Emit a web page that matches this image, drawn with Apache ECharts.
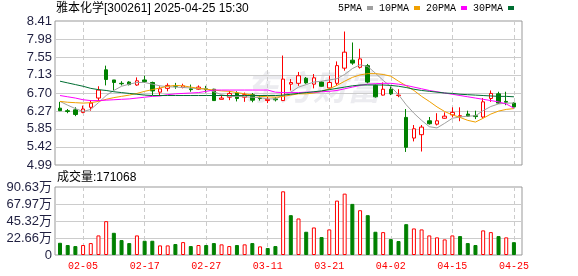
<!DOCTYPE html>
<html><head><meta charset="utf-8">
<script src="https://cdn.jsdelivr.net/npm/echarts@6/dist/echarts.min.js"></script>
<style>html,body{margin:0;padding:0;background:#fff}#c{width:578px;height:276px}</style>
</head><body><div id="c"></div>
<script>
const stockName = '雅本化学';
const stockCode = '300261';
const stamp = '2025-04-25 15:30';
const dates = ['01-23','01-24','01-27','02-05','02-06','02-07','02-10','02-11','02-12','02-13','02-14','02-17','02-18','02-19','02-20','02-21','02-24','02-25','02-26','02-27','02-28','03-03','03-04','03-05','03-06','03-07','03-10','03-11','03-12','03-13','03-14','03-17','03-18','03-19','03-20','03-21','03-24','03-25','03-26','03-27','03-28','03-31','04-01','04-02','04-03','04-07','04-08','04-09','04-10','04-11','04-14','04-15','04-16','04-17','04-18','04-21','04-22','04-23','04-24','04-25'];
const openP  = [6.34,6.28,6.30,6.24,6.36,6.58,7.25,7.01,6.93,6.96, 6.89,7.01,6.95,6.72,6.81,6.87,6.83,6.80,6.79,6.80, 6.79,6.55,6.60,6.70,6.60,6.66,6.58,6.52,6.56,6.52, 6.91,6.93,7.05,6.91,6.96,6.82,6.93,7.29,7.48,7.31, 7.35,6.88,6.65,6.79,6.64,6.12,5.63,5.71,6.04,5.96, 6.10,6.18,6.15,6.20,6.16,6.13,6.57,6.68,6.50,6.46];
const closeP = [6.28,6.26,6.19,6.32,6.46,6.77,7.02,6.95,6.92,6.90, 6.99,6.97,6.75,6.80,6.88,6.86,6.87,6.78,6.84,6.78, 6.52,6.58,6.69,6.57,6.66,6.53,6.57,6.55,6.54,7.03, 6.95,7.11,6.94,7.06,6.86,6.95,7.35,7.67,7.41,7.51, 6.96,6.61,6.79,6.68,6.65,5.41,5.85,5.89,5.97,6.04, 6.15,6.24,6.16,6.15,6.14,6.49,6.69,6.46,6.48,6.37];
const lowP   = [6.27,6.22,6.15,6.22,6.28,6.51,6.88,6.76,6.88,6.88, 6.87,6.94,6.65,6.64,6.74,6.80,6.81,6.73,6.77,6.71, 6.51,6.55,6.53,6.50,6.49,6.48,6.52,6.46,6.50,6.51, 6.76,6.87,6.92,6.81,6.85,6.79,6.87,7.23,7.37,7.28, 6.93,6.59,6.64,6.65,6.60,5.30,5.55,5.31,5.95,5.93, 6.09,6.12,6.03,6.14,6.08,6.11,6.49,6.44,6.41,6.36];
const highP  = [6.49,6.32,6.36,6.40,6.53,6.86,7.35,7.01,6.98,6.98, 7.07,7.11,6.97,6.86,6.93,6.94,6.92,6.90,6.88,6.87, 6.80,6.66,6.75,6.74,6.71,6.70,6.63,6.61,6.60,7.59, 7.03,7.20,7.08,7.15,6.98,7.11,7.45,8.16,7.90,7.75, 7.39,6.90,6.95,6.87,6.79,6.32,5.94,5.94,6.13,6.22, 6.24,6.36,6.36,6.28,6.28,6.58,6.76,6.73,6.73,6.48];
const volume = [163000,133000,119000,133000,159000,261000,451000,296000,199000,159000, 261000,190000,190000,128000,128000,146000,172000,119000,133000,133000, 159000,142000,119000,133000,142000,159000,115000,93000,119000,849000, 531000,487000,310000,367000,239000,341000,725000,818000,681000,597000, 531000,310000,305000,212000,186000,411000,354000,341000,261000,235000, 208000,261000,252000,159000,133000,328000,305000,252000,235000,171068];
const ma5  = [6.50,6.41,6.33,6.26,6.31,6.47,6.64,6.76,6.86,6.91, 6.95,6.95,6.91,6.87,6.85,6.84,6.83,6.82,6.80,6.80, 6.73,6.66,6.62,6.62,6.61,6.60,6.59,6.56,6.56,6.64, 6.72,6.84,6.90,6.96,6.98,7.01,7.04,7.14,7.28,7.37, 7.33,7.17,7.00,6.85,6.66,6.42,6.22,6.05,5.90,5.87, 5.98,6.10,6.13,6.15,6.16,6.28,6.38,6.44,6.46,6.46];
const ma10 = [6.50,6.48,6.47,6.46,6.47,6.50,6.55,6.59,6.62,6.65, 6.69,6.74,6.78,6.82,6.86,6.88,6.87,6.84,6.81,6.79, 6.77,6.75,6.74,6.71,6.68,6.65,6.62,6.61,6.60,6.62, 6.65,6.68,6.68,6.70,6.74,6.80,6.88,6.98,7.07,7.13, 7.16,7.16,7.14,7.10,6.98,6.87,6.76,6.62,6.50,6.37, 6.26,6.18,6.12,6.05,6.01,6.10,6.20,6.27,6.31,6.33];
const ma20 = [6.64,6.61,6.58,6.54,6.52,6.52,6.53,6.54,6.55,6.56, 6.58,6.60,6.62,6.63,6.66,6.68,6.69,6.70,6.71,6.74, 6.77,6.77,6.77,6.77,6.77,6.77,6.77,6.77,6.72,6.71, 6.71,6.71,6.72,6.72,6.73,6.74,6.76,6.80,6.84,6.88, 6.91,6.92,6.93,6.93,6.91,6.88,6.84,6.80,6.76,6.73, 6.70,6.67,6.64,6.61,6.58,6.55,6.52,6.49,6.44,6.34];
const ma30 = [6.98,6.94,6.90,6.86,6.81,6.78,6.76,6.73,6.71,6.69, 6.67,6.65,6.64,6.64,6.64,6.64,6.64,6.64,6.64,6.64, 6.64,6.64,6.64,6.64,6.64,6.64,6.64,6.64,6.64,6.65, 6.67,6.69,6.71,6.73,6.75,6.78,6.81,6.84,6.87,6.89, 6.89,6.89,6.89,6.88,6.86,6.83,6.79,6.76,6.74,6.72, 6.70,6.69,6.67,6.66,6.65,6.64,6.63,6.62,6.62,6.61];
const maNames = ['5PMA','10PMA','20PMA','30PMA'];
const priceTicks = ['4.99','5.42','5.85','6.27','6.70','7.13','7.55','7.98','8.41'];
const volTicks = ['0','22.66万','45.32万','67.97万','90.63万'];
const volTickValues = [0,226600,453200,679700,906300];
const labelIdx = [3,11,19,27,35,43,51,59];

const FONT = '"Liberation Sans","Noto Sans CJK SC",sans-serif';
const MONO = '"Liberation Mono",monospace';
const RED = '#ff0000', GREEN = '#008000';
const maColors = ['#a0a0a0','#f0a000','#ff00ff','#006e32'];
const XMIN = -0.65, XMAX = 60.05;
const priceVals = priceTicks.map(Number);

function nearestLabel(v, vals, labels){
  let bi = 0, bd = Infinity;
  vals.forEach((x,i)=>{ const d = Math.abs(x-v); if (d < bd){ bd = d; bi = i; } });
  return labels[bi];
}

const candleData = dates.map((d,i)=>[i, openP[i], closeP[i], lowP[i], highP[i]]);
const volData = volume.map((v,i)=>{
  const prev = i === 0 ? openP[0] : closeP[i-1];
  const up = closeP[i] >= prev;
  return { value: [i, v], itemStyle: up
    ? { color: '#ffffff', borderColor: RED, borderWidth: 1 }
    : { color: GREEN, borderColor: GREEN, borderWidth: 1 } };
});
const maArrays = [ma5, ma10, ma20, ma30];

const xBase = (gi, showLabel) => ({
  type: 'value', gridIndex: gi, min: XMIN, max: XMAX,
  axisLine: { show: false },
  axisTick: { show: false, customValues: labelIdx },
  axisLabel: { show: showLabel, customValues: labelIdx, formatter: v => dates[Math.round(v)] || '',
    color: RED, fontFamily: MONO, fontSize: 10, margin: 6 },
  splitLine: { show: true, lineStyle: { color: '#cccccc', type: [4,3], width: 1 } }
});

const option = {
  animation: false,
  backgroundColor: '#ffffff',
  title: [
    { text: stockName + '[' + stockCode + '] ' + stamp, left: 56, top: 3, padding: 0,
      textStyle: { fontSize: 12, fontWeight: 'normal', color: '#000', fontFamily: FONT } },
    { text: '成交量:' + volume[volume.length-1], left: 57, top: 172, padding: 0,
      textStyle: { fontSize: 12, fontWeight: 'normal', color: '#000', fontFamily: FONT } }
  ],
  legend: {
    left: 338, top: 3, padding: 0, align: 'right', icon: 'rect', itemWidth: 6, itemHeight: 4, itemGap: 6,
    textStyle: { fontFamily: MONO, fontSize: 10, color: '#000' },
    data: maNames
  },
  graphic: [{
    type: 'text', left: 245, top: 70, z: -10, silent: true,
    style: { text: '东方财富', font: 'italic bold 34px "Noto Sans CJK SC"', fill: 'rgba(200,200,212,0.35)' }
  }],
  grid: [
    { left: 55, top: 21, width: 467, height: 144, show: true, borderColor: '#999', borderWidth: 1 },
    { left: 55, top: 187, width: 467, height: 68, show: true, borderColor: '#999', borderWidth: 1 }
  ],
  xAxis: [ xBase(0, false), xBase(1, true) ],
  yAxis: [
    { type: 'value', gridIndex: 0, min: 4.99, max: 8.41, scale: true,
      axisLine: { show: false }, axisTick: { show: false, customValues: priceVals },
      axisLabel: { customValues: priceVals, formatter: v => nearestLabel(v, priceVals, priceTicks),
        color: '#1f1f40', fontSize: 13, fontFamily: FONT, margin: 3 },
      splitLine: { show: true, showMinLine: false, showMaxLine: false, lineStyle: { color: '#cccccc' } } },
    { type: 'value', gridIndex: 1, min: 0, max: 906300,
      axisLine: { show: false }, axisTick: { show: false, customValues: volTickValues },
      axisLabel: { customValues: volTickValues, formatter: v => nearestLabel(v, volTickValues, volTicks),
        color: '#1f1f40', fontSize: 13, fontFamily: FONT, margin: 3 },
      splitLine: { show: true, showMinLine: false, showMaxLine: false, lineStyle: { color: '#cccccc' } } }
  ],
  series: [
    { type: 'candlestick', xAxisIndex: 0, yAxisIndex: 0, data: candleData, barWidth: 4,
      itemStyle: { color: '#ffffff', color0: GREEN, borderColor: RED, borderColor0: GREEN, borderWidth: 1 } },
    ...maArrays.map((arr, k) => ({
      type: 'line', name: maNames[k], xAxisIndex: 0, yAxisIndex: 0,
      data: arr.map((v,i)=>[i, v]), symbol: 'none', silent: true,
      lineStyle: { width: 1, color: maColors[k] }, itemStyle: { color: maColors[k] }
    })),
    { type: 'bar', xAxisIndex: 1, yAxisIndex: 1, data: volData, barWidth: 4 }
  ]
};
const chart = echarts.init(document.getElementById('c'));
chart.setOption(option);
</script>
</body></html>
